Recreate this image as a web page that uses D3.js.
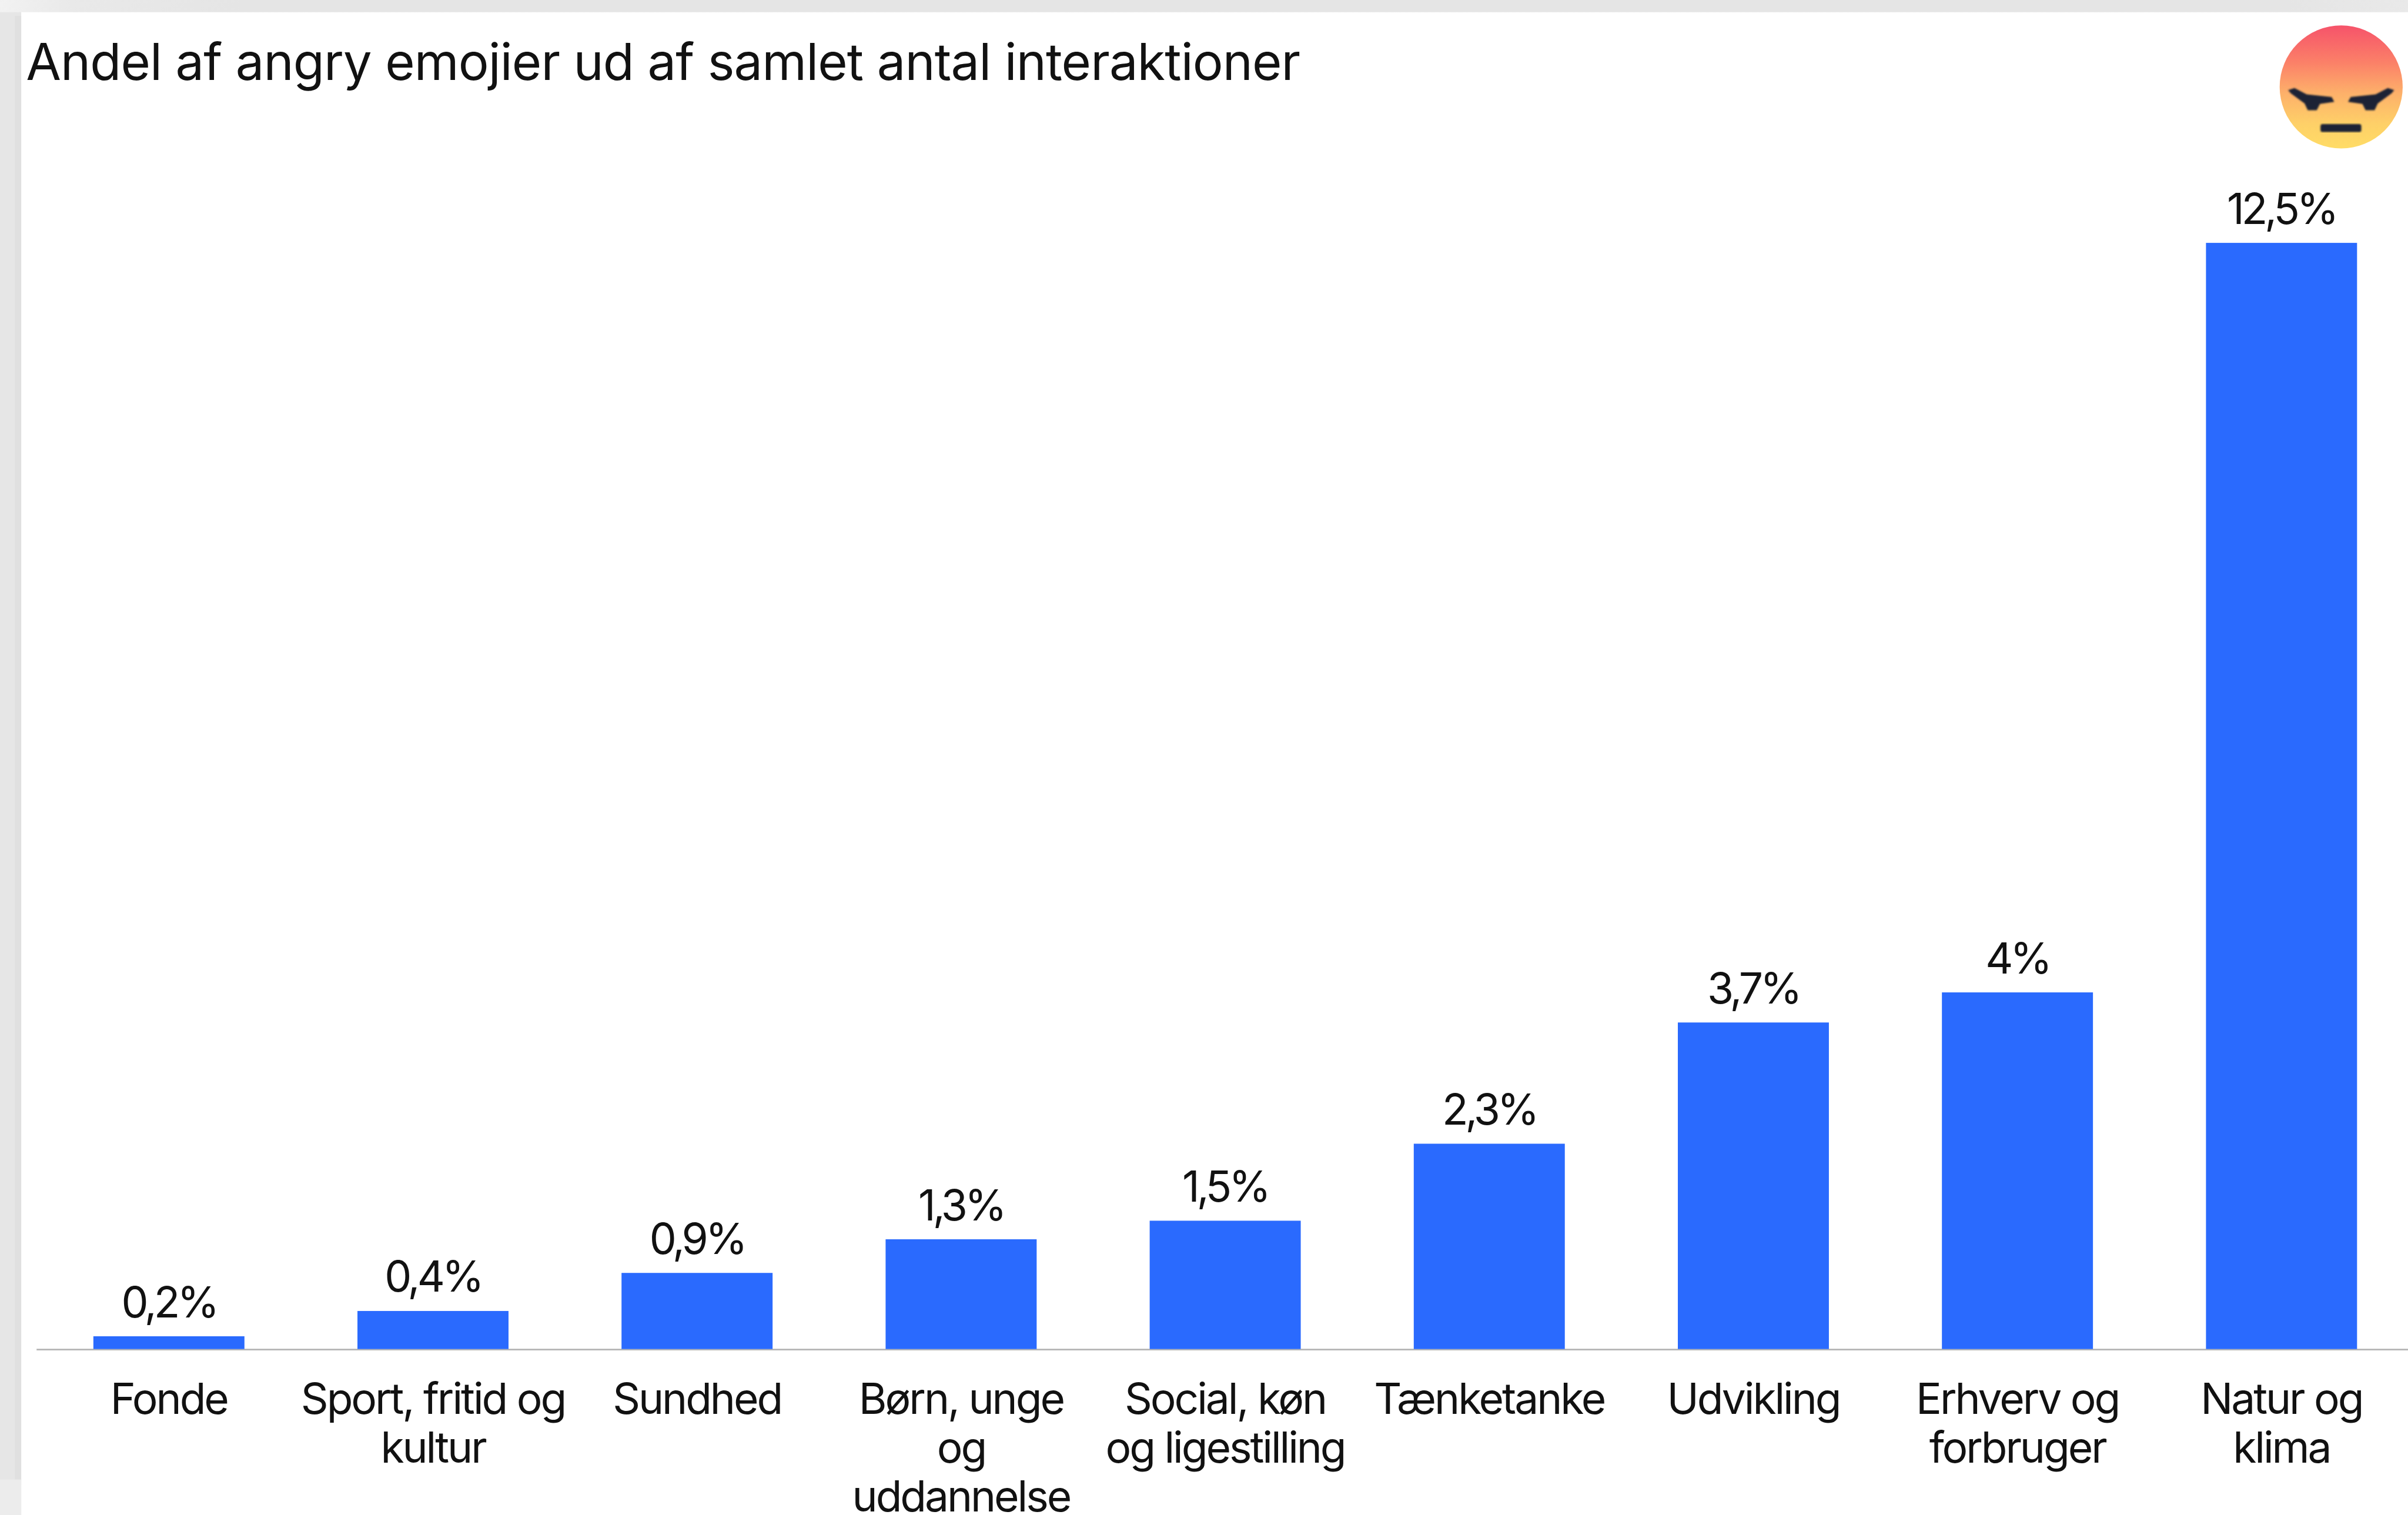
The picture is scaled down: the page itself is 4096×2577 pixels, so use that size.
<!DOCTYPE html>
<html><head><meta charset="utf-8">
<script src="https://cdn.jsdelivr.net/npm/d3@7/dist/d3.min.js"></script>
<style>html,body{margin:0;padding:0;background:#fff;overflow:hidden}svg{display:block}text{font-family:Inter,"Open Sans",sans-serif;fill:#111}</style>
</head><body><script>
const categories=[["Fonde"],["Sport, fritid og","kultur"],["Sundhed"],["Børn, unge","og","uddannelse"],["Social, køn","og ligestilling"],["Tænketanke"],["Udvikling"],["Erhverv og","forbruger"],["Natur og","klima"]];
const values=[0.144,0.43,0.86,1.24,1.45,2.32,3.69,4.03,12.5];
const valueLabels=["0,2%","0,4%","0,9%","1,3%","1,5%","2,3%","3,7%","4%","12,5%"];
const title="Andel af angry emojier ud af samlet antal interaktioner";
const W=4541,H=2857;
const svg=d3.select("body").append("svg").attr("width",4096).attr("height",2577).attr("viewBox",`0 0 ${W} ${H}`);
const defs=svg.append("defs");
const tg=defs.append("linearGradient").attr("id","topbg");
[[0,"#f2f2f2"],[.03,"#e9e9e9"],[.1,"#e5e5e5"],[.95,"#e5e5e5"],[1,"#e9e9e9"]].forEach(s=>tg.append("stop").attr("offset",s[0]).attr("stop-color",s[1]));
const eg=defs.append("linearGradient").attr("id","emoji").attr("x1",0).attr("x2",0).attr("y1",0).attr("y2",1);
[[0,"#f6536a"],[.3,"#fb8068"],[.55,"#fdb06a"],[.8,"#fed068"],[1,"#ffdc66"]].forEach(s=>eg.append("stop").attr("offset",s[0]).attr("stop-color",s[1]));
defs.append("filter").attr("id","soft").append("feGaussianBlur").attr("stdDeviation",1.6);
svg.append("rect").attr("width",40).attr("height",H).attr("fill","#e6e6e6");
svg.append("rect").attr("x",28).attr("width",12).attr("y",30).attr("height",2770).attr("fill","#e0e0e0");
svg.append("rect").attr("y",2790).attr("width",40).attr("height",67).attr("fill","#ececec");
svg.append("rect").attr("width",W).attr("height",23).attr("fill","url(#topbg)");
const x=d3.scaleBand().domain(d3.range(values.length)).range([69.5,4551.5]).paddingInner(.428).paddingOuter(.214);
const y=d3.scaleLinear().domain([0,12.5]).range([2544,458]);
const ax=svg.append("g").attr("transform",`translate(0,${y(0)+1})`).call(d3.axisBottom(x).tickSize(0).tickFormat(""));
ax.select(".domain").attr("stroke","#b4b4b4").attr("stroke-width",3).attr("d","M69,0H4541");
ax.selectAll(".tick text").remove();
svg.selectAll("rect.bar").data(values).join("rect").attr("class","bar").attr("fill","#2a6afe")
 .attr("x",(d,i)=>x(i)).attr("width",x.bandwidth()).attr("y",d=>y(d)).attr("height",d=>y(0)-y(d));
const FS=81;
svg.selectAll("text.val").data(values).join("text").attr("class","val").attr("text-anchor","middle").attr("font-size",FS).attr("letter-spacing",-5.5)
 .attr("x",(d,i)=>x(i)+x.bandwidth()/2).attr("y",d=>y(d)-36).text((d,i)=>valueLabels[i]);
const cat=svg.selectAll("text.cat").data(categories).join("text").attr("class","cat").attr("text-anchor","middle").attr("font-size",FS).attr("letter-spacing",-3.4);
cat.each(function(lines,i){const t=d3.select(this);lines.forEach((l,j)=>t.append("tspan").attr("x",x(i)+x.bandwidth()/2).attr("y",2666+j*92).text(l));});
svg.append("text").attr("x",49).attr("y",151).attr("font-size",96).attr("letter-spacing",-1).text(title);
const e=svg.append("g").attr("transform","translate(4415,164)");
e.append("circle").attr("r",116).attr("fill","url(#emoji)");
const brow="M-100,6 L-88,2 L-65,14 L-18,19 L-13,28 L-40,32 L-46,44 L-63,44 L-69,31 L-95,12 Z";
e.selectAll("path.f").data([1,-1]).join("path").attr("class","f").attr("d",brow).attr("transform",d=>`scale(${d},1)`).attr("fill","#1c2336").attr("filter","url(#soft)");
e.append("rect").attr("x",-39).attr("y",70).attr("width",77).attr("height",15).attr("rx",4).attr("fill","#1c2336").attr("filter","url(#soft)");
</script></body></html>
